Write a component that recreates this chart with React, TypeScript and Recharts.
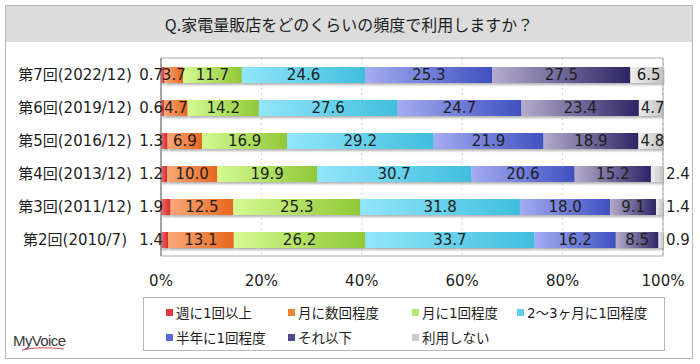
import React from 'react'
import { BarChart, Bar, XAxis, YAxis, CartesianGrid, LabelList, ReferenceArea } from 'recharts'

const categories = ['第7回(2022/12)', '第6回(2019/12)', '第5回(2016/12)', '第4回(2013/12)', '第3回(2011/12)', '第2回(2010/7)']
const weekly = [0.7, 0.6, 1.3, 1.2, 1.9, 1.4]
const monthlySeveral = [3.7, 4.7, 6.9, 10.0, 12.5, 13.1]
const monthlyOnce = [11.7, 14.2, 16.9, 19.9, 25.3, 26.2]
const every2to3 = [24.6, 27.6, 29.2, 30.7, 31.8, 33.7]
const halfYear = [25.3, 24.7, 21.9, 20.6, 18.0, 16.2]
const lessOften = [27.5, 23.4, 18.9, 15.2, 9.1, 8.5]
const never = [6.5, 4.7, 4.8, 2.4, 1.4, 0.9]
const xTicks = [0, 20, 40, 60, 80, 100]

const series = [
  { key: 's1', name: '週に1回以上', values: weekly, from: '#f07070', to: '#d82828', mark: '#e03a3a' },
  { key: 's2', name: '月に数回程度', values: monthlySeveral, from: '#f9a878', to: '#e8681e', mark: '#f0823a' },
  { key: 's3', name: '月に1回程度', values: monthlyOnce, from: '#d4fa92', to: '#90c836', mark: '#b8e870' },
  { key: 's4', name: '2～3ヶ月に1回程度', values: every2to3, from: '#92e6fa', to: '#40bede', mark: '#60d0f0' },
  { key: 's5', name: '半年に1回程度', values: halfYear, from: '#a4acf2', to: '#4050c0', mark: '#5868d0' },
  { key: 's6', name: 'それ以下', values: lessOften, from: '#b4accc', to: '#2c2464', mark: '#504890' },
  { key: 's7', name: '利用しない', values: never, from: '#eeeeee', to: '#c4c4c4', mark: '#cccccc' },
]

const data = categories.map((name, i) => {
  const row: Record<string, string | number> = { name }
  series.forEach((s) => { row[s.key] = s.values[i] })
  return row
})

const FONT = "'DejaVu Sans', 'Noto Sans CJK JP', sans-serif"
const JP = "'Noto Sans CJK JP', sans-serif"

function makeLabel(kind: 'left' | 'center' | 'right') {
  return (props: any) => {
    const { x, y, width, height, value } = props
    let tx = x + width / 2
    let anchor: 'start' | 'middle' | 'end' = 'middle'
    if (kind === 'left') {
      tx = x + 2
      anchor = 'end'
    } else if (kind === 'right') {
      if (width < 14) {
        tx = x + width + 3
        anchor = 'start'
      } else {
        tx = x + width / 2 + 2
      }
    }
    return (
      <text x={tx} y={y + height / 2} dy="0.36em" textAnchor={anchor} fontSize={15} fontFamily={FONT} fill="#1e1e1e">
        {Number(value).toFixed(1)}
      </text>
    )
  }
}

const YTick = (props: any) => {
  const { y, payload } = props
  return (
    <text x={75} y={y} dy="0.36em" textAnchor="middle" fontSize={15} fontFamily={FONT} fill="#1e1e1e">
      {payload.value}
    </text>
  )
}

const XTick = (props: any) => {
  const { x, y, payload } = props
  return (
    <text x={x} y={y + 17} dy="0.36em" textAnchor="middle" fontSize={15} fontFamily={FONT} fill="#1e1e1e">
      {payload.value}%
    </text>
  )
}

export default function App() {
  return (
    <div style={{ position: 'absolute', left: 0, top: 0, width: 700, height: 364, background: '#fff', overflow: 'hidden' }}>
      {/* outer frame + title band */}
      <div style={{ position: 'absolute', left: 5, top: 5, width: 686, height: 352, border: '1px solid #b8b8b8' }} />
      <div
        style={{
          position: 'absolute', left: 6, top: 6, width: 686, height: 36, background: '#dcdcdc',
          display: 'flex', alignItems: 'center', justifyContent: 'center',
          fontFamily: JP, fontSize: 16, color: '#1e1e1e',
        }}
      >
        Q.家電量販店をどのくらいの頻度で利用しますか？
      </div>

      <div style={{ position: 'absolute', left: 0, top: 0 }}>
        <BarChart
          width={700}
          height={364}
          data={data}
          layout="vertical"
          margin={{ top: 58, right: 37, bottom: 78, left: 0 }}
          barSize={16}
        >
          <defs>
            {series.map((s) => (
              <linearGradient key={s.key} id={`g-${s.key}`} x1="0" y1="0" x2="1" y2="0">
                <stop offset="0%" stopColor={s.from} />
                <stop offset="100%" stopColor={s.to} />
              </linearGradient>
            ))}
            <filter id="sh" x="-5%" y="-30%" width="110%" height="180%">
              <feDropShadow dx="1" dy="2" stdDeviation="1" floodColor="#777" floodOpacity="0.55" />
            </filter>
          </defs>
          <CartesianGrid horizontal={false} strokeDasharray="2 3" stroke="#d4d4d4" />
          <ReferenceArea x1={0} x2={100} fill="none" stroke="#a8a8a8" ifOverflow="visible" />
          <XAxis
            type="number"
            domain={[0, 100]}
            ticks={xTicks}
            axisLine={false}
            tickLine={false}
            height={30}
            tick={<XTick />}
          />
          <YAxis
            type="category"
            dataKey="name"
            width={161}
            axisLine={{ stroke: '#7a7a7a' }}
            tickLine={false}
            tick={<YTick />}
          />
          {series.map((s, i) => (
            <Bar
              key={s.key}
              dataKey={s.key}
              name={s.name}
              stackId="a"
              fill={`url(#g-${s.key})`}
              filter="url(#sh)"
              isAnimationActive={false}
            >
              <LabelList
                dataKey={s.key}
                content={makeLabel(i === 0 ? 'left' : i === series.length - 1 ? 'right' : 'center')}
              />
            </Bar>
          ))}
        </BarChart>
      </div>

      {/* legend */}
      <div
        style={{
          position: 'absolute', left: 143, top: 297, width: 520, height: 52, border: '1px solid #b8b8b8',
          fontFamily: FONT, fontSize: 13.5, color: '#1e1e1e',
        }}
      >
        {[series.slice(0, 4), series.slice(4)].map((row, r) => (
          <div key={r} style={{ position: 'absolute', left: 0, top: 3 + r * 25, height: 22, width: '100%' }}>
            {row.map((s, c) => (
              <div
                key={s.key}
                style={{
                  position: 'absolute', left: [22, 144, 268, 373][c], top: 0, height: 22,
                  display: 'flex', alignItems: 'center', whiteSpace: 'nowrap',
                }}
              >
                <span style={{ display: 'inline-block', width: 7, height: 7, background: s.mark, marginRight: 3 }} />
                {s.name}
              </div>
            ))}
          </div>
        ))}
      </div>

      {/* logo */}
      <div
        style={{
          position: 'absolute', left: 13, top: 332, fontFamily: "'Liberation Sans', sans-serif", fontSize: 15,
          color: '#3a3a3a', letterSpacing: -0.6,
        }}
      >
        MyVoice
      </div>
      <svg style={{ position: 'absolute', left: 20, top: 344 }} width={50} height={8}>
        <path d="M2 6 Q 20 2 44 5" stroke="#d05060" strokeWidth={1} fill="none" />
      </svg>
    </div>
  )
}
